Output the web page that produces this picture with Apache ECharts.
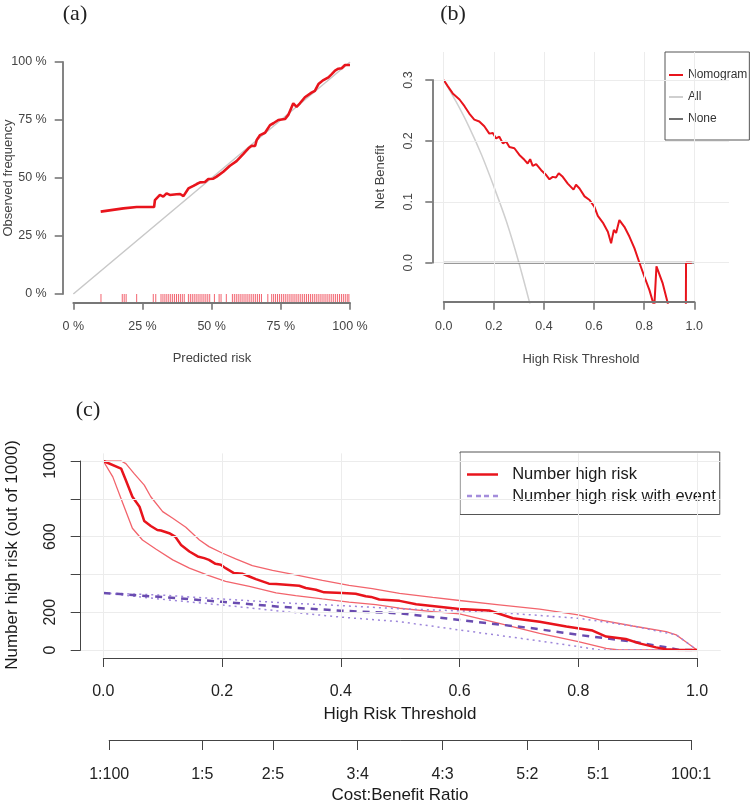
<!DOCTYPE html>
<html><head><meta charset="utf-8">
<script src="https://cdn.jsdelivr.net/npm/echarts@6/dist/echarts.min.js"></script>
<style>html,body{margin:0;padding:0;background:#fff}#c{width:753px;height:804px}</style>
</head><body><div id="c"></div>
<script>
// ---------- (a) calibration ----------
const calibPredicted = [0.099,0.181,0.229,0.292,0.295,0.313,0.325,0.337,0.349,0.373,0.386,0.398,0.404,0.416,0.434,0.446,0.458,0.476,0.488,0.506,0.518,0.542,0.566,0.590,0.614,0.633,0.645,0.657,0.663,0.675,0.693,0.711,0.723,0.741,0.765,0.777,0.795,0.807,0.819,0.837,0.861,0.873,0.886,0.892,0.904,0.922,0.934,0.946,0.958,0.970,0.982,0.988,1.000];
const calibObserved  = [0.355,0.369,0.375,0.375,0.405,0.427,0.420,0.434,0.427,0.430,0.431,0.422,0.422,0.455,0.466,0.474,0.481,0.483,0.496,0.497,0.506,0.527,0.553,0.573,0.603,0.628,0.639,0.638,0.664,0.685,0.695,0.728,0.736,0.750,0.754,0.772,0.822,0.807,0.822,0.848,0.868,0.876,0.905,0.899,0.922,0.934,0.948,0.963,0.971,0.973,0.987,0.991,0.987];
const idealPredicted = [0, 1];
const idealObserved  = [0, 1];
const rugRisk = [0.100,0.177,0.184,0.191,0.229,0.289,0.298,
 0.317,0.324,0.331,0.338,0.345,0.352,0.359,0.366,0.373,0.380,0.387,0.394,0.401,
 0.416,0.423,0.430,0.437,0.444,0.451,0.458,0.465,0.472,0.479,0.486,0.493,
 0.510,0.527,0.534,0.553,
 0.575,0.582,0.589,0.596,0.603,0.610,0.617,0.624,0.631,0.638,0.645,0.652,0.659,0.666,0.673,0.680,
 0.703,
 0.717,0.724,0.731,0.738,0.745,0.752,0.759,0.766,0.773,0.780,0.787,0.794,0.801,0.808,0.815,0.822,0.829,0.836,0.843,0.850,0.857,0.864,0.871,0.878,0.885,0.892,0.899,0.906,0.913,0.920,0.927,0.934,0.941,0.948,0.955,0.962,0.969,0.976,0.983,0.990,0.996];

// ---------- (b) decision curve ----------
const dcaThreshold = [0,0.016,0.036,0.063,0.083,0.102,0.122,0.142,0.162,0.182,0.196,0.209,0.222,0.236,0.249,0.262,0.282,0.302,0.322,0.335,0.345,0.355,0.369,0.389,0.409,0.422,0.435,0.448,0.459,0.475,0.495,0.518,0.528,0.542,0.562,0.582,0.601,0.615,0.635,0.655,0.668,0.679,0.688,0.701,0.721,0.741,0.761,0.781,0.801,0.821,0.836,0.840,0.849,0.874,0.894,0.900,0.966,0.967,0.990];
const dcaNomogram  = [0.300,0.290,0.278,0.268,0.257,0.245,0.235,0.232,0.224,0.212,0.213,0.204,0.207,0.196,0.199,0.190,0.188,0.177,0.169,0.163,0.170,0.159,0.162,0.152,0.144,0.137,0.141,0.140,0.147,0.141,0.130,0.120,0.128,0.122,0.109,0.103,0.092,0.077,0.066,0.051,0.032,0.054,0.049,0.070,0.059,0.043,0.024,0.000,-0.023,-0.045,-0.066,-0.075,-0.006,-0.034,-0.066,-0.090,-0.120,0.000,0.000];
const allThreshold = [0,0.05,0.10,0.15,0.20,0.25,0.30,0.35];
const allNetBenefit = [0.300,0.264,0.224,0.178,0.125,0.068,0.000,-0.077];
const noneThreshold = [0, 1];
const noneNetBenefit = [0, 0];
const dcaXTicks = [0,0.2,0.4,0.6,0.8,1.0];
const dcaYTicks = [0,0.1,0.2,0.3];

// ---------- (c) clinical impact ----------
const nhrX  = [0,0.030,0.038,0.049,0.061,0.069,0.080,0.091,0.097,0.111,0.121,0.131,0.145,0.159,0.170,0.178,0.189,0.198,0.206,0.220,0.235,0.246,0.257,0.279,0.291,0.330,0.341,0.358,0.372,0.403,0.425,0.442,0.451,0.465,0.499,0.527,0.600,0.650,0.690,0.735,0.780,0.824,0.847,0.880,0.903,0.931,0.948,0.970,1.000];
const nhrY  = [1000,960,898,811,758,682,656,635,632,618,600,556,521,495,486,477,456,451,433,407,403,389,375,351,349,340,328,319,305,302,298,284,281,267,260,242,217,209,168,150,124,103,71,58,35,14,4,0,0];
const nhrHiX = [0,0.030,0.038,0.052,0.069,0.080,0.100,0.117,0.139,0.162,0.178,0.201,0.223,0.251,0.285,0.324,0.369,0.414,0.453,0.499,0.555,0.600,0.667,0.735,0.800,0.836,0.892,0.948,0.965,0.981,1.000];
const nhrHiY = [1000,1000,986,933,872,811,732,697,649,582,547,512,482,446,421,398,368,342,325,300,278,262,239,216,186,159,127,97,80,44,0];
const nhrLoX = [0,0.016,0.033,0.049,0.066,0.089,0.117,0.145,0.178,0.206,0.246,0.291,0.324,0.369,0.414,0.459,0.499,0.555,0.600,0.667,0.735,0.800,0.847,0.869,1.000];
const nhrLoY = [1000,916,775,644,582,533,477,433,393,363,337,302,288,270,253,240,221,203,191,141,88,44,9,0,0];
const evX   = [0,0.1,0.2,0.3,0.4,0.499,0.6,0.723,0.8,0.892,0.948,0.97,1.0];
const evY   = [302,280,255,228,208,194,159,115,80,44,14,0,0];
const evHiX = [0,0.1,0.2,0.3,0.4,0.5,0.6,0.667,0.8,0.892,0.965,1.0];
const evHiY = [302,290,270,250,235,218,207,198,168,127,80,0];
const evLoX = [0,0.1,0.2,0.3,0.4,0.499,0.6,0.723,0.8,0.836,1.0];
const evLoY = [302,268,238,205,174,150,106,53,18,0,0];
const cXTicks = [0,0.2,0.4,0.6,0.8,1.0];
const cYTicks = [0,200,400,600,800,1000];
const cYLabelled = [0,200,600,1000];
const costBenefitLabels = ['1:100','1:5','2:5','3:4','4:3','5:2','5:1','100:1'];

// ---------- build ----------
const zip = (xs, ys) => xs.map((x, i) => [x, ys[i]]);
const costThresholds = costBenefitLabels.map(s => { const [c, b] = s.split(':').map(Number); return c / (c + b); });

const FA = '"Liberation Sans", Arial, sans-serif';
const FS = '"Liberation Serif", "Times New Roman", serif';
const RED = '#e8141c';

// layout (pixel) constants
const A = {l: 73.3, t: 62, w: 276.7, h: 232};
const BP = {l: 433.7, t: 52, w: 295.3, h: 250.7};
const BA = {l: 443.7, t: 80, w: 250.6, h: 182.7};
const CP = {l: 79.55, t: 453.4, w: 641.2, h: 204.2};
const CA = {l: 103.3, t: 461, w: 593.7, h: 189};
const p0 = costThresholds[0], p1 = costThresholds[costThresholds.length - 1];
const CC = {l: CA.l + p0 * CA.w, t: CA.t, w: (p1 - p0) * CA.w, h: CA.h};
const g = o => ({left: o.l, top: o.t, width: o.w, height: o.h, containLabel: false});

const AXC_AB = '#777777';
const abLabel = () => ({color: '#444', fontSize: 12.5, fontFamily: FA});
const cLabel = () => ({color: '#222', fontSize: 16, fontFamily: FA});
const axLineAB = () => ({show: true, onZero: false, lineStyle: {color: AXC_AB, width: 1.8}});
const axLineC = () => ({show: true, onZero: false, lineStyle: {color: '#444', width: 1}});
const tickAB = len => ({show: true, length: len, lineStyle: {color: AXC_AB, width: 1.6}});

const gridLineStyle = {color: '#ececec', width: 1, type: 'solid'};
function gridSeries(xi, yi, xs, ys) {
  return {
    type: 'line', xAxisIndex: xi, yAxisIndex: yi, data: [], z: 0, silent: true,
    markLine: {
      silent: true, symbol: ['none', 'none'], animation: false,
      label: {show: false}, lineStyle: Object.assign({}, gridLineStyle),
      data: xs.map(v => ({xAxis: v})).concat(ys.map(v => ({yAxis: v})))
    }
  };
}
const dashIcon = 'path://M0,0h5v2.5h-5zM9,0h5v2.5h-5zM17,0h5v2.5h-5zM26,0h5v2.5h-5z';

const option = {
  animation: false,
  backgroundColor: '#fff',
  grid: [g(A), g(BP), g(BA), g(CP), g(CA), g(CC)],
  xAxis: [
    {gridIndex: 0, type: 'value', min: 0, max: 1, interval: 0.25, offset: 8.7, z: 5,
     axisLine: axLineAB(), axisTick: tickAB(7),
     axisLabel: Object.assign({margin: 17, formatter: v => Math.round(v * 100) + ' %'}, abLabel()),
     splitLine: {show: false}},
    {gridIndex: 1, type: 'value', min: -0.04, max: 1.1385, show: false},
    {gridIndex: 2, type: 'value', min: 0, max: 1, interval: 0.2, offset: 39, z: 5,
     axisLine: axLineAB(), axisTick: tickAB(8),
     axisLabel: Object.assign({margin: 18, formatter: v => v.toFixed(1)}, abLabel()),
     splitLine: {show: false}},
    {gridIndex: 3, type: 'value', min: -0.04, max: 1.04, show: false},
    {gridIndex: 4, type: 'value', min: 0, max: 1, interval: 0.2, offset: 8, z: 5,
     axisLine: axLineC(), axisTick: {show: true, length: 9, lineStyle: {color: '#444'}},
     axisLabel: Object.assign({margin: 26, formatter: v => v.toFixed(1)}, cLabel()),
     splitLine: {show: false}},
    {gridIndex: 5, type: 'value', min: p0, max: p1, offset: 90, z: 5,
     axisLine: axLineC(),
     axisTick: {show: true, length: 10, customValues: costThresholds, lineStyle: {color: '#444'}},
     axisLabel: Object.assign({margin: 27, customValues: costThresholds, showMinLabel: true, showMaxLabel: true,
       formatter: v => { const i = costThresholds.findIndex(t => Math.abs(t - v) < 1e-6); return i >= 0 ? costBenefitLabels[i] : ''; }}, cLabel()),
     splitLine: {show: false}}
  ],
  yAxis: [
    {gridIndex: 0, type: 'value', min: 0, max: 1, interval: 0.25, offset: 10.6, z: 5,
     axisLine: axLineAB(), axisTick: tickAB(8),
     axisLabel: Object.assign({margin: 16, formatter: v => Math.round(v * 100) + ' %'}, abLabel()),
     splitLine: {show: false}},
    {gridIndex: 1, type: 'value', min: -0.0656, max: 0.346, show: false},
    {gridIndex: 2, type: 'value', min: 0, max: 0.3, interval: 0.1, offset: 11.4, z: 5,
     axisLine: axLineAB(), axisTick: tickAB(7),
     axisLabel: Object.assign({margin: 17, rotate: 90, formatter: v => v.toFixed(1)}, abLabel()),
     splitLine: {show: false}},
    {gridIndex: 3, type: 'value', min: -40, max: 1040, show: false},
    {gridIndex: 4, type: 'value', min: 0, max: 1000, interval: 200, offset: 22.6, z: 5,
     axisLine: axLineC(), axisTick: {show: true, length: 10, lineStyle: {color: '#444'}},
     axisLabel: Object.assign({margin: 22, rotate: 90, formatter: v => cYLabelled.indexOf(Math.round(v)) >= 0 ? String(Math.round(v)) : ''}, cLabel()),
     splitLine: {show: false}},
    {gridIndex: 5, type: 'value', min: 0, max: 1000, show: false}
  ],
  legend: [
    {data: [{name: 'Nomogram', icon: 'rect'}, {name: 'All', icon: 'rect'}, {name: 'None', icon: 'rect'}],
     orient: 'vertical', left: 665, top: 52,
     padding: [17, 2, 15, 4], itemGap: 10, itemWidth: 14, itemHeight: 2,
     borderColor: '#555', borderWidth: 1, selectedMode: false,
     textStyle: {fontSize: 12, color: '#333', fontFamily: FA}},
    {data: [
       {name: 'Number high risk', icon: 'rect', itemStyle: {color: RED}},
       {name: 'Number high risk with event', icon: dashIcon, itemStyle: {color: '#a48ddc'}}
     ],
     orient: 'vertical', left: 460, top: 452,
     padding: [14, 4, 10, 7], itemGap: 4.5, itemWidth: 31, itemHeight: 2.5,
     borderColor: '#555', borderWidth: 1, selectedMode: false,
     formatter: n => '  ' + n,
     textStyle: {fontSize: 16.5, color: '#1a1a1a', fontFamily: FA}}
  ],
  series: [
    // (a)
    {name: 'ideal', type: 'line', xAxisIndex: 0, yAxisIndex: 0, data: zip(idealPredicted, idealObserved),
     symbol: 'none', lineStyle: {color: '#c8c8c8', width: 1.5}, z: 2, silent: true},
    {name: 'calibration', type: 'line', xAxisIndex: 0, yAxisIndex: 0, data: zip(calibPredicted, calibObserved),
     symbol: 'none', lineStyle: {color: RED, width: 2.6}, z: 3, silent: true},
    {name: 'rug', type: 'custom', xAxisIndex: 0, yAxisIndex: 0, clip: false, silent: true, z: 3,
     data: rugRisk.map(v => [v, 0]),
     renderItem: (params, api) => {
       const p = api.coord([api.value(0), api.value(1)]);
       return {type: 'line', shape: {x1: p[0], y1: p[1], x2: p[0], y2: p[1] + 8},
               style: {stroke: '#f26470', lineWidth: 1, fill: null}};
     }},
    // (b)
    gridSeries(1, 1, dcaXTicks, dcaYTicks),
    {name: 'All', type: 'line', xAxisIndex: 1, yAxisIndex: 1, data: zip(allThreshold, allNetBenefit),
     symbol: 'none', smooth: 0.3, clip: true, lineStyle: {color: '#cfcfcf', width: 1.5}, itemStyle: {color: '#cfcfcf'}, z: 2},
    {name: 'None', type: 'line', xAxisIndex: 1, yAxisIndex: 1, data: zip(noneThreshold, noneNetBenefit),
     symbol: 'none', clip: true, lineStyle: {color: '#777777', width: 1.8}, itemStyle: {color: '#707070'}, z: 2},
    {name: 'Nomogram', type: 'line', xAxisIndex: 1, yAxisIndex: 1, data: zip(dcaThreshold, dcaNomogram),
     symbol: 'none', clip: true, lineStyle: {color: RED, width: 2}, itemStyle: {color: RED}, z: 3},
    // (c)
    gridSeries(3, 3, cXTicks, cYTicks),
    {name: 'Number high risk upper', type: 'line', xAxisIndex: 4, yAxisIndex: 4, data: zip(nhrHiX, nhrHiY),
     symbol: 'none', lineStyle: {color: '#f2646c', width: 1.3}, z: 2},
    {name: 'Number high risk lower', type: 'line', xAxisIndex: 4, yAxisIndex: 4, data: zip(nhrLoX, nhrLoY),
     symbol: 'none', lineStyle: {color: '#f2646c', width: 1.3}, z: 2},
    {name: 'Number high risk with event upper', type: 'line', xAxisIndex: 4, yAxisIndex: 4, data: zip(evHiX, evHiY),
     symbol: 'none', lineStyle: {color: '#9d86da', width: 1.5, type: [2, 4]}, z: 2},
    {name: 'Number high risk with event lower', type: 'line', xAxisIndex: 4, yAxisIndex: 4, data: zip(evLoX, evLoY),
     symbol: 'none', lineStyle: {color: '#9d86da', width: 1.5, type: [2, 4]}, z: 2},
    {name: 'Number high risk with event', type: 'line', xAxisIndex: 4, yAxisIndex: 4, data: zip(evX, evY),
     symbol: 'none', lineStyle: {color: '#6a4cb0', width: 2.5, type: [7, 6]}, itemStyle: {color: '#a48ddc'}, z: 3},
    {name: 'Number high risk', type: 'line', xAxisIndex: 4, yAxisIndex: 4, data: zip(nhrX, nhrY),
     symbol: 'none', lineStyle: {color: RED, width: 2.5}, itemStyle: {color: RED}, z: 4}
  ],
  graphic: [
    {type: 'text', x: 75, y: 14, style: {text: '(a)', font: '22px ' + FS, fill: '#222', align: 'center', verticalAlign: 'middle'}},
    {type: 'text', x: 453, y: 14, style: {text: '(b)', font: '22px ' + FS, fill: '#222', align: 'center', verticalAlign: 'middle'}},
    {type: 'text', x: 88, y: 410, style: {text: '(c)', font: '22px ' + FS, fill: '#222', align: 'center', verticalAlign: 'middle'}},
    {type: 'text', x: 212, y: 358, style: {text: 'Predicted risk', font: '13px ' + FA, fill: '#444', align: 'center', verticalAlign: 'middle'}},
    {type: 'text', x: 8, y: 178, rotation: Math.PI / 2, style: {text: 'Observed frequency', font: '13px ' + FA, fill: '#444', align: 'center', verticalAlign: 'middle'}},
    {type: 'text', x: 581, y: 359, style: {text: 'High Risk Threshold', font: '13px ' + FA, fill: '#444', align: 'center', verticalAlign: 'middle'}},
    {type: 'text', x: 380, y: 177, rotation: Math.PI / 2, style: {text: 'Net Benefit', font: '13px ' + FA, fill: '#444', align: 'center', verticalAlign: 'middle'}},
    {type: 'text', x: 400, y: 714, style: {text: 'High Risk Threshold', font: '17px ' + FA, fill: '#1a1a1a', align: 'center', verticalAlign: 'middle'}},
    {type: 'text', x: 400, y: 795, style: {text: 'Cost:Benefit Ratio', font: '17px ' + FA, fill: '#1a1a1a', align: 'center', verticalAlign: 'middle'}},
    {type: 'text', x: 12, y: 555, rotation: Math.PI / 2, style: {text: 'Number high risk (out of 1000)', font: '17px ' + FA, fill: '#1a1a1a', align: 'center', verticalAlign: 'middle'}}
  ]
};
const chart = echarts.init(document.getElementById('c'), null, {renderer: 'canvas'});
chart.setOption(option);
</script></body></html>
